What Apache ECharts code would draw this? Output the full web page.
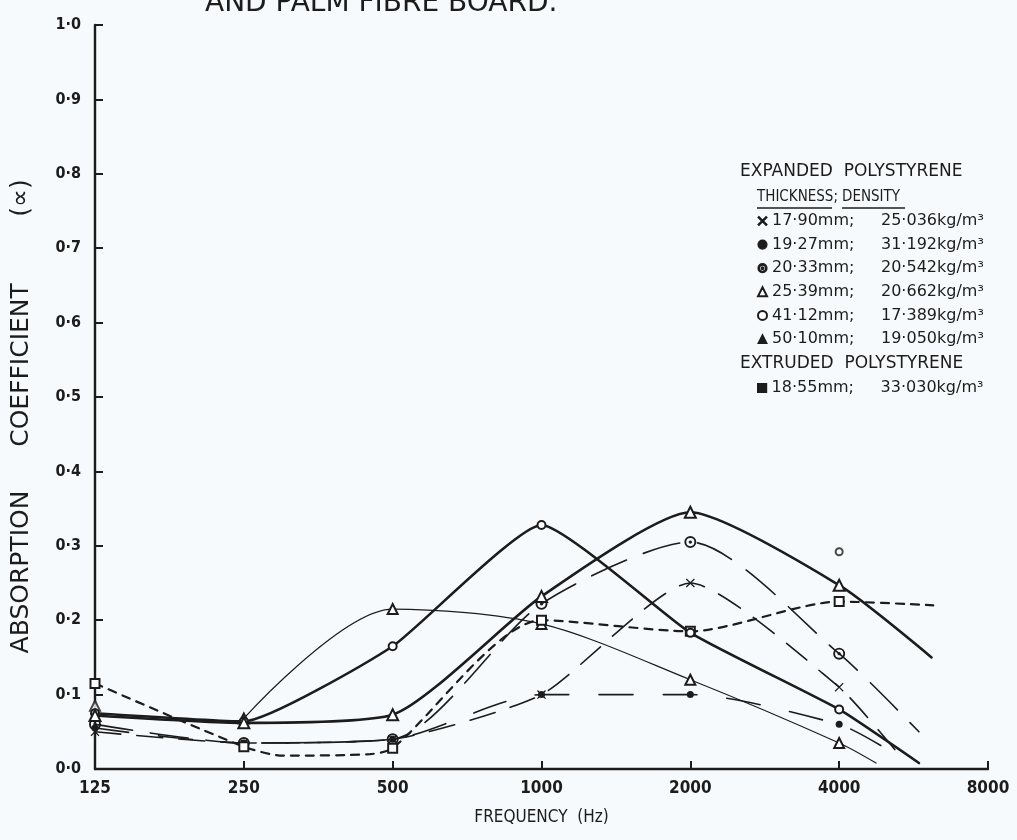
<!DOCTYPE html>
<html><head><meta charset="utf-8">
<script src="https://cdn.jsdelivr.net/npm/echarts@6/dist/echarts.min.js"></script>
<style>html,body{margin:0;padding:0;background:#f7fafc}#c{width:1017px;height:840px}</style>
</head><body><div id="c"></div>
<script>
// ---- axis ticks / labels ----
const freqTicks = [125, 250, 500, 1000, 2000, 4000, 8000];
const alphaTicks = [0, 0.1, 0.2, 0.3, 0.4, 0.5, 0.6, 0.7, 0.8, 0.9, 1.0];
const titleText = 'AND PALM FIBRE BOARD.';
const xName = 'FREQUENCY  (Hz)';
const yNameParts = ['ABSORPTION', 'COEFFICIENT', '(\u221D)'];
const head1 = 'EXPANDED  POLYSTYRENE';
const head2 = 'EXTRUDED  POLYSTYRENE';
const thickHead = 'THICKNESS;';
const densHead = 'DENSITY';

// ---- legend entries ----
const thicknesses = ['17\u00B790mm;', '19\u00B727mm;', '20\u00B733mm;', '25\u00B739mm;', '41\u00B712mm;', '50\u00B710mm;', '18\u00B755mm;'];
const densities = ['25\u00B7036kg/m\u00B3', '31\u00B7192kg/m\u00B3', '20\u00B7542kg/m\u00B3', '20\u00B7662kg/m\u00B3', '17\u00B7389kg/m\u00B3', '19\u00B7050kg/m\u00B3', '33\u00B7030kg/m\u00B3'];

// ---- series data (frequency Hz, absorption coefficient) ----
const f1790 = [125, 250, 500, 1000, 2000, 4000, 5200];
const a1790 = [0.05, 0.035, 0.04, 0.10, 0.25, 0.11, 0.025];

const f1927 = [125, 250, 500, 1000, 2000, 4000, 4900];
const a1927 = [0.055, 0.035, 0.04, 0.10, 0.10, 0.06, 0.03];

const f2033 = [125, 250, 500, 1000, 2000, 4000, 5800];
const a2033 = [0.06, 0.035, 0.04, 0.222, 0.305, 0.155, 0.05];

const f2539 = [250, 500, 1000, 2000, 4000, 4750];
const a2539 = [0.068, 0.215, 0.195, 0.12, 0.035, 0.008];
const f2539start = [125];
const a2539start = [0.085];

const f4112 = [125, 250, 500, 1000, 2000, 4000, 5800];
const a4112 = [0.075, 0.064, 0.165, 0.328, 0.183, 0.08, 0.008];
const f4112iso = [4000];
const a4112iso = [0.292];

const f5010 = [125, 250, 500, 1000, 2000, 4000, 6150];
const a5010 = [0.072, 0.062, 0.073, 0.232, 0.345, 0.247, 0.15];

const f1855 = [125, 250, 300, 450, 500, 1000, 2000, 4000, 6200];
const a1855 = [0.115, 0.03, 0.018, 0.02, 0.028, 0.20, 0.185, 0.225, 0.22];

// ---- rendering ----
const INK = '#1c1c1c';
const FONT = '"DejaVu Sans", sans-serif';
const FONTC = '"DejaVu Sans Condensed", "DejaVu Sans", sans-serif';
const toX = f => Math.log2(f / freqTicks[0]);
const onBand = x => Math.abs(x - Math.round(x)) < 1e-6;
const fmtDot = v => v.toFixed(1).replace('.', '\u00B7');

const SYM_X = 'path://M1,0L5,4L9,0L10,1L6,5L10,9L9,10L5,6L1,10L0,9L4,5L0,1Z';
const SYM_CDOT = 'path://M5,0A5,5 0 1 1 5,10A5,5 0 1 1 5,0ZM5,1.6A3.4,3.4 0 1 0 5,8.4A3.4,3.4 0 1 0 5,1.6ZM5,3.6A1.4,1.4 0 1 1 5,6.4A1.4,1.4 0 1 1 5,3.6Z';

function mk(idx, fr, al, o) {
  return {
    type: 'line', name: thicknesses[idx],
    data: fr.map((f, i) => [toX(f), al[i]]),
    smooth: o.smooth == null ? 0.25 : o.smooth,
    symbol: v => onBand(v[0]) ? o.sym : 'none',
    symbolSize: o.size,
    showAllSymbol: true,
    lineStyle: { color: INK, width: o.width, type: o.dash || 'solid', cap: 'round' },
    itemStyle: { color: INK, borderColor: INK, borderWidth: o.bw == null ? 1.5 : o.bw },
    z: o.z || 2,
    silent: true
  };
}
function pts(fr, al, sym, size) {
  return {
    type: 'scatter', data: fr.map((f, i) => [toX(f), al[i]]),
    symbol: sym, symbolSize: size,
    itemStyle: { color: INK, borderColor: INK, borderWidth: 1.5 }, silent: true
  };
}

const series = [
  mk(0, f1790, a1790, { sym: SYM_X, size: 9, width: 1.6, dash: [26, 16], bw: 0, smooth: 0.2 }),
  mk(1, f1927, a1927, { sym: 'circle', size: 7, width: 1.6, dash: [34, 30], bw: 0 }),
  mk(2, f2033, a2033, { sym: SYM_CDOT, size: 12, width: 1.6, dash: [38, 18], bw: 0 }),
  mk(3, f2539, a2539, { sym: 'emptyTriangle', size: 10, width: 1.2, smooth: 0.3 }),
  mk(4, f4112, a4112, { sym: 'emptyCircle', size: 8, width: 2.6, z: 3, smooth: 0.15 }),
  mk(5, f5010, a5010, { sym: 'emptyTriangle', size: 11, width: 2.6, smooth: 0.2, z: 3 }),
  mk(6, f1855, a1855, { sym: 'emptyRect', size: 9, width: 2.2, dash: [8, 7] }),
  pts(f4112iso, a4112iso, 'emptyCircle', 7),
  pts(f2539start, a2539start, 'emptyTriangle', 10)
];

const densOf = {};
thicknesses.forEach((t, i) => densOf[t] = densities[i]);
const legendIcons = [SYM_X, 'circle', SYM_CDOT, 'emptyTriangle', 'emptyCircle', 'triangle', 'rect'];
const legendText = {
  color: INK, fontFamily: FONT, fontSize: 16,
  rich: {
    a: { width: 109, fontSize: 16, fontFamily: FONT, color: INK },
    b: { fontSize: 16, fontFamily: FONT, color: INK }
  }
};
const legendCommon = {
  orient: 'vertical', itemWidth: 9, itemHeight: 9, itemGap: 7.6,
  selectedMode: false, textStyle: legendText, padding: 0,
  formatter: n => '{a|' + n + '}{b|' + densOf[n] + '}',
  itemStyle: { borderWidth: 1.2, borderColor: INK, color: INK }
};

const chart = echarts.init(document.getElementById('c'), null, { renderer: 'canvas' });
chart.setOption({
  backgroundColor: '#f7fafc',
  animation: false,
  grid: { left: 95, right: 29, top: 25, bottom: 71 },
  xAxis: {
    type: 'value', min: 0, max: freqTicks.length - 1, interval: 1,
    name: xName, nameLocation: 'middle', nameGap: 40,
    nameTextStyle: { fontFamily: FONTC, fontSize: 17, color: INK },
    axisLine: { lineStyle: { color: INK, width: 2.4 } },
    axisTick: { inside: true, length: 8, lineStyle: { color: INK, width: 2 } },
    axisLabel: { formatter: v => String(freqTicks[Math.round(v)]), fontFamily: FONTC, fontSize: 17, fontWeight: 'bold', color: INK, margin: 11 },
    splitLine: { show: false }
  },
  yAxis: {
    type: 'value', min: alphaTicks[0], max: alphaTicks[alphaTicks.length - 1], interval: 0.1,
    axisLine: { show: true, lineStyle: { color: INK, width: 2.4 } },
    axisTick: { show: true, inside: true, length: 8, lineStyle: { color: INK, width: 2 } },
    axisLabel: { formatter: v => fmtDot(v), fontFamily: FONTC, fontSize: 16, fontWeight: 'bold', color: INK, margin: 14 },
    splitLine: { show: false }
  },
  legend: [
    Object.assign({}, legendCommon, {
      left: 757, top: 213,
      data: thicknesses.slice(0, 6).map((n, i) => ({ name: n, icon: legendIcons[i] }))
    }),
    Object.assign({}, legendCommon, {
      left: 757, top: 380,
      data: thicknesses.slice(6).map((n, i) => ({ name: n, icon: legendIcons[6 + i] }))
    })
  ],
  graphic: [
    { type: 'text', x: 205, y: 18, style: { text: titleText, font: '28px ' + FONT, fill: INK, verticalAlign: 'bottom' } },
    { type: 'text', x: 21, y: 572, rotation: Math.PI / 2, style: { text: yNameParts[0], font: '25px ' + FONT, fill: INK, align: 'center', verticalAlign: 'middle' } },
    { type: 'text', x: 21, y: 365, rotation: Math.PI / 2, style: { text: yNameParts[1], font: '25px ' + FONT, fill: INK, align: 'center', verticalAlign: 'middle' } },
    { type: 'text', x: 21, y: 198, rotation: Math.PI / 2, style: { text: yNameParts[2], font: '25px ' + FONT, fill: INK, align: 'center', verticalAlign: 'middle' } },
    { type: 'text', x: 740, y: 172, style: { text: head1, font: '17px ' + FONT, fill: INK, verticalAlign: 'middle' } },
    { type: 'text', x: 757, y: 197, style: { text: thickHead, font: '15px ' + FONTC, fill: INK, verticalAlign: 'middle' } },
    { type: 'text', x: 842, y: 197, style: { text: densHead, font: '15px ' + FONTC, fill: INK, verticalAlign: 'middle' } },
    { type: 'line', shape: { x1: 757, y1: 208, x2: 832, y2: 208 }, style: { stroke: INK, lineWidth: 1.3 } },
    { type: 'line', shape: { x1: 842, y1: 208, x2: 905, y2: 208 }, style: { stroke: INK, lineWidth: 1.3 } },
    { type: 'text', x: 740, y: 364, style: { text: head2, font: '17px ' + FONT, fill: INK, verticalAlign: 'middle' } }
  ],
  series: series
});
</script>
</body></html>
